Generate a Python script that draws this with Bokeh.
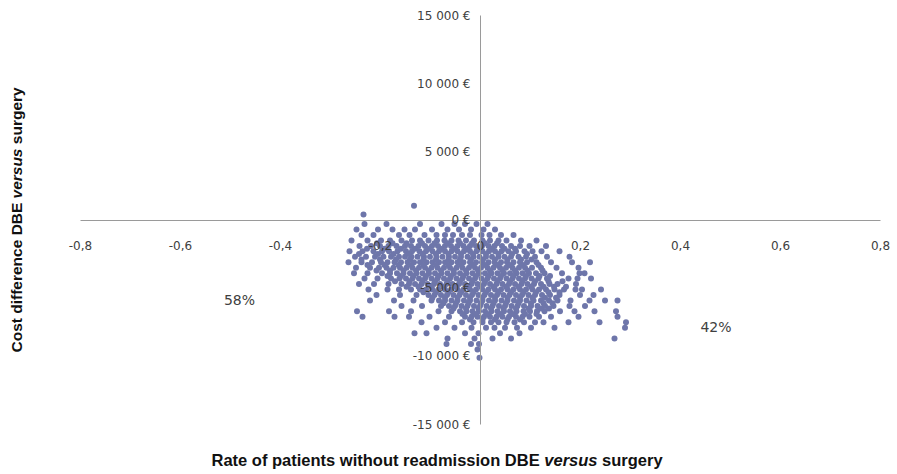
import math
from bokeh.plotting import figure
from bokeh.models import Range1d, FixedTicker, Label, ColumnDataSource
from bokeh.embed import file_html
from bokeh.resources import INLINE

# ---- data ----
# rows of the scatter cloud: cost difference (EUR) and the rate differences at that cost
cost_rows = [1050, 400, -300, -700, -1100, -1500, -1900, -2300, -2700, -3100, -3500,
             -3900, -4300, -4700, -5100, -5500, -5900, -6300, -6700, -7100, -7500,
             -7900, -8300, -8700, -9100, -9500, -10100]
rate_rows = [
    [-0.133],
    [-0.234],
    [-0.232, -0.188, -0.121, -0.078, -0.052, -0.031, -0.008, 0.014],
    [-0.248, -0.205, -0.176, -0.152, -0.131, -0.097, -0.066, -0.043, -0.019, 0.006, 0.029],
    [-0.238, -0.214, -0.163, -0.142, -0.112, -0.088, -0.071, -0.055, -0.037, -0.021, 0.002,
     0.018, 0.041, 0.066],
    [-0.258, -0.226, -0.199, -0.181, -0.158, -0.137, -0.121, -0.104, -0.087, -0.072, -0.058,
     -0.044, -0.029, -0.013, 0.004, 0.019, 0.036, 0.052, 0.081, 0.112],
    [-0.242, -0.219, -0.201, -0.184, -0.168, -0.151, -0.139, -0.124, -0.111, -0.097, -0.085,
     -0.071, -0.059, -0.046, -0.034, -0.021, -0.009, 0.003, 0.016, 0.028, 0.043, 0.061,
     0.079, 0.098, 0.131],
    [-0.262, -0.236, -0.214, -0.197, -0.183, -0.166, -0.149, -0.137, -0.122, -0.109, -0.096,
     -0.083, -0.071, -0.058, -0.046, -0.033, -0.021, -0.008, 0.004, 0.017, 0.029, 0.042,
     0.056, 0.071, 0.088, 0.104, 0.122, 0.158],
    [-0.251, -0.229, -0.211, -0.194, -0.179, -0.163, -0.151, -0.138, -0.126, -0.113, -0.101,
     -0.088, -0.076, -0.063, -0.051, -0.039, -0.026, -0.014, -0.002, 0.011, 0.023, 0.036,
     0.048, 0.061, 0.076, 0.091, 0.109, 0.133, 0.178],
    [-0.264, -0.238, -0.217, -0.199, -0.186, -0.172, -0.159, -0.146, -0.133, -0.121, -0.108,
     -0.096, -0.083, -0.071, -0.058, -0.046, -0.034, -0.021, -0.009, 0.003, 0.016, 0.028,
     0.041, 0.053, 0.066, 0.079, 0.093, 0.112, 0.141, 0.183, 0.219],
    [-0.249, -0.221, -0.203, -0.188, -0.174, -0.161, -0.148, -0.136, -0.123, -0.111, -0.098,
     -0.086, -0.073, -0.061, -0.048, -0.036, -0.023, -0.011, 0.001, 0.014, 0.026, 0.039,
     0.051, 0.064, 0.077, 0.089, 0.103, 0.121, 0.152, 0.196],
    [-0.253, -0.226, -0.197, -0.181, -0.167, -0.154, -0.141, -0.128, -0.116, -0.103, -0.091,
     -0.078, -0.066, -0.053, -0.041, -0.028, -0.016, -0.003, 0.009, 0.022, 0.034, 0.047,
     0.059, 0.072, 0.084, 0.097, 0.111, 0.128, 0.163, 0.198, 0.208],
    [-0.232, -0.206, -0.179, -0.162, -0.149, -0.136, -0.123, -0.111, -0.098, -0.086, -0.073,
     -0.061, -0.048, -0.036, -0.023, -0.011, 0.002, 0.014, 0.027, 0.039, 0.052, 0.064,
     0.077, 0.089, 0.102, 0.116, 0.133, 0.176, 0.194, 0.221],
    [-0.243, -0.213, -0.184, -0.158, -0.143, -0.131, -0.118, -0.106, -0.093, -0.081, -0.068,
     -0.056, -0.043, -0.031, -0.018, -0.006, 0.007, 0.019, 0.032, 0.044, 0.057, 0.069,
     0.082, 0.094, 0.107, 0.121, 0.138, 0.154, 0.191],
    [-0.224, -0.186, -0.163, -0.139, -0.121, -0.109, -0.096, -0.084, -0.071, -0.059, -0.046,
     -0.034, -0.021, -0.009, 0.004, 0.016, 0.029, 0.041, 0.054, 0.066, 0.079, 0.091,
     0.104, 0.117, 0.131, 0.148, 0.167, 0.19, 0.203, 0.241],
    [-0.208, -0.161, -0.128, -0.104, -0.092, -0.079, -0.067, -0.054, -0.042, -0.029, -0.017,
     -0.004, 0.008, 0.021, 0.033, 0.046, 0.058, 0.071, 0.083, 0.096, 0.109, 0.123, 0.139,
     0.158, 0.199, 0.226],
    [-0.221, -0.173, -0.134, -0.098, -0.083, -0.071, -0.058, -0.046, -0.033, -0.021, -0.008,
     0.004, 0.017, 0.029, 0.042, 0.054, 0.067, 0.079, 0.092, 0.106, 0.121, 0.137, 0.154,
     0.18, 0.218, 0.249, 0.274],
    [-0.158, -0.117, -0.079, -0.063, -0.051, -0.038, -0.026, -0.013, -0.001, 0.012, 0.024,
     0.037, 0.049, 0.062, 0.074, 0.087, 0.101, 0.114, 0.129, 0.146, 0.178, 0.209],
    [-0.247, -0.183, -0.139, -0.084, -0.058, -0.041, -0.028, -0.016, -0.003, 0.009, 0.022,
     0.034, 0.047, 0.059, 0.072, 0.086, 0.099, 0.113, 0.128, 0.159, 0.188, 0.228, 0.271],
    [-0.236, -0.172, -0.143, -0.102, -0.063, -0.031, -0.018, -0.006, 0.007, 0.019, 0.032,
     0.044, 0.057, 0.071, 0.084, 0.098, 0.117, 0.141, 0.196, 0.274],
    [-0.118, -0.071, -0.037, -0.014, 0.004, 0.021, 0.036, 0.052, 0.068, 0.087, 0.109, 0.126,
     0.176, 0.238, 0.291],
    [-0.088, -0.052, -0.018, 0.011, 0.028, 0.049, 0.073, 0.101, 0.148, 0.289],
    [-0.132, -0.108, -0.031, -0.004, 0.039, 0.078],
    [-0.066, -0.012, 0.024, 0.061, 0.268],
    [-0.068, -0.019, -0.003],
    [-0.006],
    [-0.002],
]

# second, interleaved set of rows for the dense core of the cloud
core_cost_rows = [-1700, -2100, -2500, -2900, -3300, -3700, -4100, -4500, -4900, -5300,
                  -5700, -6100, -6500, -6900, -7300]
core_rate_rows = [
    [-0.207, -0.176, -0.148, -0.117, -0.092, -0.066, -0.041, -0.017, 0.009, 0.033],
    [-0.227, -0.192, -0.159, -0.131, -0.104, -0.079, -0.052, -0.027, -0.003, 0.022, 0.048,
     0.069],
    [-0.243, -0.205, -0.174, -0.143, -0.116, -0.089, -0.064, -0.039, -0.015, 0.011, 0.036,
     0.063, 0.093],
    [-0.238, -0.201, -0.169, -0.141, -0.114, -0.089, -0.064, -0.041, -0.019, 0.005, 0.029,
     0.054, 0.081, 0.102],
    [-0.226, -0.192, -0.164, -0.139, -0.114, -0.089, -0.064, -0.039, -0.015, 0.009, 0.034,
     0.058, 0.085, 0.116],
    [-0.208, -0.181, -0.154, -0.129, -0.104, -0.079, -0.054, -0.029, -0.005, 0.019, 0.044,
     0.069, 0.094, 0.124],
    [-0.186, -0.159, -0.134, -0.109, -0.084, -0.059, -0.034, -0.009, 0.016, 0.041, 0.066,
     0.091, 0.118, 0.139],
    [-0.171, -0.142, -0.116, -0.091, -0.066, -0.041, -0.016, 0.009, 0.034, 0.059, 0.084,
     0.109, 0.136, 0.164],
    [-0.148, -0.124, -0.099, -0.074, -0.049, -0.024, 0.001, 0.026, 0.051, 0.076, 0.101,
     0.126, 0.147, 0.171],
    [-0.114, -0.089, -0.064, -0.039, -0.014, 0.011, 0.036, 0.061, 0.086, 0.111, 0.136,
     0.158],
    [-0.096, -0.071, -0.046, -0.021, 0.004, 0.029, 0.054, 0.079, 0.104, 0.129, 0.151],
    [-0.074, -0.049, -0.024, 0.001, 0.026, 0.051, 0.076, 0.101, 0.126, 0.144],
    [-0.054, -0.029, -0.004, 0.021, 0.046, 0.071, 0.096, 0.121, 0.137],
    [-0.036, -0.011, 0.014, 0.039, 0.064, 0.089, 0.112],
    [-0.021, 0.004, 0.029, 0.054, 0.079],
]

x_ticks = [-0.8, -0.6, -0.4, -0.2, 0, 0.2, 0.4, 0.6, 0.8]
x_tick_labels = ["-0,8", "-0,6", "-0,4", "-0,2", "0", "0,2", "0,4", "0,6", "0,8"]
y_ticks = [-15000, -10000, -5000, 0, 5000, 10000, 15000]
y_tick_labels = ["-15 000 €", "-10 000 €", "-5 000 €", "0 €", "5 000 €", "10 000 €", "15 000 €"]

share_labels = ["58%", "42%"]
share_x = [-0.482, 0.471]
share_y = [-5900, -7880]

rate = []
cost = []
for c, xs in list(zip(cost_rows, rate_rows)) + list(zip(core_cost_rows, core_rate_rows)):
    for xv in xs:
        rate.append(xv)
        cost.append(c)

src = ColumnDataSource(dict(rate=rate, cost=cost))

# ---- layout: the frame fills the canvas; axes are bounded to the data extent ----
W, H = 895, 472
AX_LEFT, AX_RIGHT = 80, 880      # pixel positions of -0.8 and 0.8
AX_TOP, AX_BOTTOM = 15, 424      # pixel positions of 15000 and -15000
XMIN, XMAX = x_ticks[0], x_ticks[-1]
YMIN, YMAX = y_ticks[0], y_ticks[-1]
kx = (XMAX - XMIN) / (AX_RIGHT - AX_LEFT)
ky = (YMAX - YMIN) / (AX_BOTTOM - AX_TOP)


def px_x(px):
    return XMIN + (px - AX_LEFT) * kx


def px_y(py):
    return YMAX - (py - AX_TOP) * ky


p = figure(width=W, height=H, output_backend="svg", toolbar_location=None,
           x_range=Range1d(px_x(0), px_x(W)), y_range=Range1d(px_y(H), px_y(0)),
           min_border=0)
p.outline_line_color = None
p.grid.visible = False
p.background_fill_color = "white"
p.border_fill_color = "white"

p.scatter("rate", "cost", source=src, size=6.0, fill_color="#6e76aa", line_color=None)

TICK_FONT = "DejaVu Sans"
for ax in (p.xaxis[0], p.yaxis[0]):
    ax.fixed_location = 0
    ax.axis_line_color = "#9a9a9a"
    ax.axis_line_width = 1
    ax.major_tick_line_color = None
    ax.minor_tick_line_color = None
    ax.major_tick_out = 0
    ax.major_tick_in = 0
    ax.major_label_text_font = TICK_FONT
    ax.major_label_text_font_size = "12px"
    ax.major_label_text_color = "#404040"

p.xaxis[0].bounds = (XMIN, XMAX)
p.xaxis[0].ticker = FixedTicker(ticks=x_ticks)
p.xaxis[0].major_label_overrides = {t: l for t, l in zip(x_ticks, x_tick_labels)}
p.xaxis[0].major_label_standoff = 21
p.yaxis[0].bounds = (YMIN, YMAX)
p.yaxis[0].ticker = FixedTicker(ticks=y_ticks)
p.yaxis[0].major_label_overrides = {t: l for t, l in zip(y_ticks, y_tick_labels)}
p.yaxis[0].major_label_standoff = 10

for t, xv, yv in zip(share_labels, share_x, share_y):
    p.add_layout(Label(x=xv, y=yv, text=t, text_align="center", text_baseline="middle",
                       text_font=TICK_FONT, text_font_size="14px", text_color="#404040"))

# ---- axis titles (mixed bold / bold italic); widths from Arial-metric advance widths ----
TF = "Liberation Sans"
SPACE = 0.278
xs_ = 16.5
x_parts = [("Rate of patients without readmission DBE", "bold", 0.0),
           ("versus", "bold italic", 20.170 * xs_),
           ("surgery", "bold", (20.170 + 3.224 + SPACE) * xs_)]
x0_px, xy_px = 211, 459
for txt, style, off in x_parts:
    p.add_layout(Label(x=px_x(x0_px + off), y=px_y(xy_px), text=txt,
                       text_font=TF, text_font_style=style, text_font_size=f"{xs_}px",
                       text_color="#111111", text_align="left", text_baseline="middle"))

ys_ = 15.5
y_parts = [("Cost difference DBE", "bold", 0.0),
           ("versus", "bold italic", 9.936 * ys_),
           ("surgery", "bold", (9.936 + 3.224 + SPACE) * ys_)]
yx_px, y0_px = 16, 352
for txt, style, off in y_parts:
    p.add_layout(Label(x=px_x(yx_px), y=px_y(y0_px - off), text=txt,
                       angle=math.pi / 2, text_font=TF, text_font_style=style,
                       text_font_size=f"{ys_}px", text_color="#111111",
                       text_align="left", text_baseline="middle"))

open("out.html", "w").write(file_html(p, INLINE))
